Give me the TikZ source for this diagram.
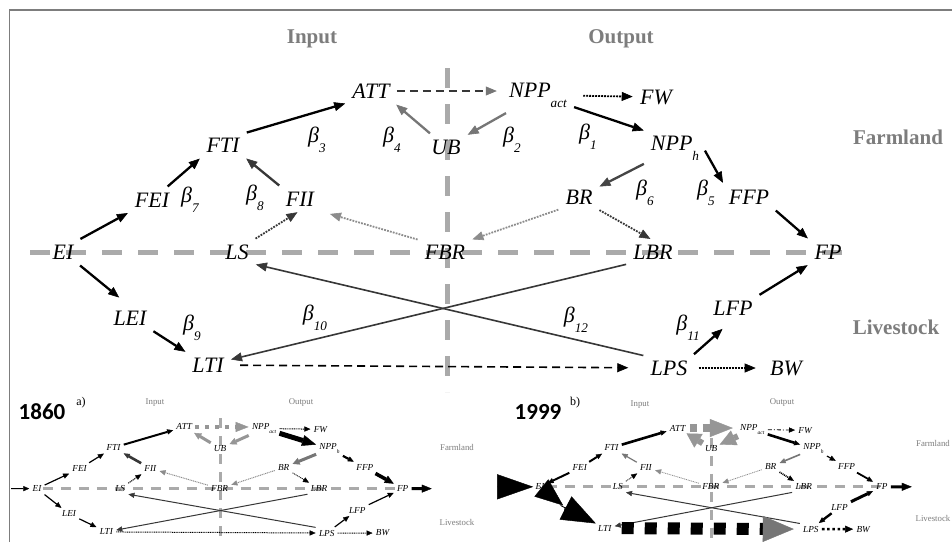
\documentclass[tikz,border=0pt]{standalone}
\usepackage{fontspec}
\setmainfont{Liberation Serif}
\newfontfamily\yearfont{Carlito}
\usepackage{tikz}
\usetikzlibrary{arrows.meta}

\definecolor{axisgray}{RGB}{170,170,170}
\definecolor{labelgray}{RGB}{125,125,125}
\definecolor{arrowgray}{RGB}{118,118,118}
\definecolor{lightarrow}{RGB}{150,150,150}
\definecolor{dotgray}{RGB}{140,140,140}
\definecolor{linegray}{RGB}{55,55,55}
\definecolor{framegray}{RGB}{125,125,125}

\newcommand\lowsub[1]{\raisebox{-0.45em}{\scalebox{0.6}{#1}}}
\newcommand\betacoef[1]{β\lowsub{#1}}

% the twenty variables, at the positions of the large diagram
\newcommand\flownodes{%
\node[var] (EI) at (63,252) {EI};
\node[var] (FEI) at (152,200) {FEI};
\node[var] (FTI) at (223,145) {FTI};
\node[var] (ATT) at (371,91) {ATT};
\node[var] (UB) at (446,147) {UB};
\node[var] (FII) at (300,199) {FII};
\node[var] (LS) at (237,252) {LS};
\node[var] (FBR) at (445,252) {FBR};
\node[var] (LEI) at (130,318) {LEI};
\node[var] (LTI) at (208,365) {LTI};
\node[var] (NPPa) at (538,95) {NPP\lowsub{act}};
\node[var] (FW) at (656,97) {FW};
\node[var] (NPPh) at (675,148) {NPP\lowsub{h}};
\node[var] (BR) at (579,197) {BR};
\node[var] (FFP) at (749,197) {FFP};
\node[var] (LBR) at (653,252) {LBR};
\node[var] (FP) at (828,252) {FP};
\node[var] (LFP) at (733,308) {LFP};
\node[var] (LPS) at (669,368) {LPS};
\node[var] (BW) at (786,368) {BW};
}

\tikzset{
  var/.style={font=\fontsize{11}{13}\selectfont\itshape, inner sep=2pt},
  coef/.style={font=\fontsize{11}{13}\selectfont\itshape, inner sep=0pt},
  group/.style={font=\fontsize{10.5}{12}\selectfont\bfseries, text=labelgray},
  smallgroup/.style={font=\fontsize{4.4}{5}\selectfont, text=labelgray},
  year/.style={font=\yearfont\bfseries\fontsize{11.5}{13}\selectfont},
  tag/.style={font=\fontsize{6}{7}\selectfont},
  axis/.style={draw=axisgray, line width=2.5pt, dash pattern=on 10pt off 8pt},
  flow/.style={-{Triangle[length=5.5pt,width=4.5pt,line width=0.3pt]}, line width=1.15pt, shorten >=1.5pt, shorten <=1.5pt},
  gflow/.style={flow, draw=arrowgray},
  dflow/.style={flow, line width=0.9pt, dash pattern=on 0.9pt off 0.6pt},
  cross/.style={flow, draw=linegray, line width=0.8pt},
  sflow/.style={-{Triangle[length=3pt,width=2.6pt,line width=0.2pt]}, line width=0.6pt, shorten >=0.5pt, shorten <=0.5pt},
  sdot/.style={sflow, line width=0.5pt, dash pattern=on 0.5pt off 0.4pt},
  scross/.style={sflow, draw=linegray, line width=0.5pt},
}

\begin{document}
\begin{tikzpicture}[x=0.5pt, y=-0.5pt]
\path[use as bounding box, fill=white] (0,0) rectangle (952,542);
\draw[framegray, line width=0.8pt] (9.5,542) -- (9.5,10) -- (952,10);

% large diagram
\draw[axis] (30,252) -- (856,252);
\draw[axis] (447,68) -- (447,392);
\node[group] (input) at (312,39) {Input};
\node[group] (output) at (621,39) {Output};
\node[group] (farmland) at (898,137) {Farmland};
\node[group] (livestock) at (896,327) {Livestock};
\flownodes
\node[coef] (beta1) at (588,137) {\betacoef{1}};
\node[coef] (beta2) at (512,140) {\betacoef{2}};
\node[coef] (beta3) at (317,140) {\betacoef{3}};
\node[coef] (beta4) at (392,140) {\betacoef{4}};
\node[coef] (beta5) at (706,193) {\betacoef{5}};
\node[coef] (beta6) at (645,193) {\betacoef{6}};
\node[coef] (beta7) at (190,200) {\betacoef{7}};
\node[coef] (beta8) at (255,198) {\betacoef{8}};
\node[coef] (beta9) at (192,328) {\betacoef{9}};
\node[coef] (beta10) at (315,318) {\betacoef{10}};
\node[coef] (beta11) at (688,328) {\betacoef{11}};
\node[coef] (beta12) at (576,320) {\betacoef{12}};

\draw[flow] (FTI.north east) -- (ATT.south west);
\draw[flow] (FEI) -- (FTI.south west);
\draw[flow, draw=linegray] (FII.north west) -- (FTI.south east);
\draw[flow] (EI.north east) -- (FEI.south west);
\draw[flow, shorten >=7pt] (EI.south east) -- (LEI.north);
\draw[flow] (LEI.south east) -- (LTI.north west);
\draw[gflow] (UB) -- (ATT.south east);
\draw[gflow] (NPPa) -- (UB);
\draw[flow] (NPPa) -- (NPPh.north west);
\draw[flow, draw=linegray!80!gray] (NPPh) -- (BR);
\draw[flow] (NPPh.east) -- (FFP.north west);
\draw[flow] (FFP.south east) -- (FP.north west);
\draw[flow] (LFP.north east) -- (FP.south west);
\draw[flow, shorten >=7pt] (LPS.north east) -- (LFP.south);
\draw[flow, draw=linegray, line width=0.6pt, dash pattern=on 4pt off 2.5pt,
  -{Triangle[length=5.5pt,width=4.5pt,line width=0.3pt,color=arrowgray]}, shorten >=4pt]
  (ATT.east) -- (ATT.east -| NPPa.west);
\draw[dflow, shorten <=6pt] (NPPa) -- (FW);
\draw[dflow, shorten <=3.5pt, shorten >=5pt] (LPS) -- (BW);
\draw[dflow, draw=linegray] (LS.north east) -- (FII.south);
\draw[dflow, draw=dotgray, shorten >=6pt] (FBR.north west) -- (FII.south east);
\draw[dflow, draw=dotgray] (BR.south west) -- (FBR.north east);
\draw[dflow, draw=linegray] (BR.south east) -- (LBR.north);
\draw[flow, line width=0.8pt, dash pattern=on 4pt off 2.5pt, shorten <=6pt, shorten >=9pt] (LTI) -- (LPS);
\draw[cross] (LBR.south west) -- (LTI);
\draw[cross] (LPS.north west) -- (LS.south east);

% 1860
\node[year] (y1860) at (42,412) {1860};
\node[tag] (taga) at (81,403) {a)};
\node[smallgroup] (inputa) at (155,403) {Input};
\node[smallgroup] (outputa) at (301,403) {Output};
\node[smallgroup] (farmlanda) at (457,447) {Farmland};
\node[smallgroup] (livestocka) at (457,522) {Livestock};
\begin{scope}[shift={(6.9,392.1)}, xscale=0.478, yscale=0.383, name prefix=a-,
  var/.style={font=\fontsize{4.6}{5}\selectfont\itshape, inner sep=1pt}]
\draw[axis, line width=1.5pt, dash pattern=on 5pt off 4pt] (75,252) -- (822,252);
\draw[axis, line width=1.5pt, dash pattern=on 5pt off 4pt] (447,68) -- (447,395);
\flownodes
\coordinate (in) at (6.5,252);
\coordinate (out) at (891,252);
\draw[sflow] (in) -- (EI);
\draw[sflow] (EI) -- (FEI);
\draw[sflow] (FEI) -- (FTI);
\draw[sflow, line width=1pt] (FTI) -- (ATT);
\draw[sflow, draw=linegray, line width=1.3pt] (FII) -- (FTI);
\draw[sflow] (EI) -- (LEI);
\draw[sflow] (LEI) -- (LTI);
\draw[sdot] (LS) -- (FII);
\draw[sdot, draw=dotgray] (FBR) -- (FII);
\draw[sflow, draw=lightarrow, line width=2pt, dash pattern=on 2pt off 3pt,
  -{Triangle[length=6.5pt,width=5pt,line width=0.2pt]}] (ATT.east) -- (ATT.east -| NPPa.west);
\draw[sflow, draw=lightarrow, line width=1.5pt, -{Triangle[length=3.5pt,width=3.5pt,line width=0.2pt]}] (UB) -- (ATT);
\draw[sflow, draw=lightarrow, line width=1.5pt, -{Triangle[length=3.5pt,width=3.5pt,line width=0.2pt]}] (NPPa) -- (UB);
\draw[sdot] (NPPa) -- (FW);
\draw[sflow, line width=2.5pt, -{Triangle[length=7pt,width=5.5pt,line width=0.2pt]}] (NPPa) -- (NPPh);
\draw[sflow, draw=arrowgray, line width=1.5pt, -{Triangle[length=3.5pt,width=3.5pt,line width=0.2pt]}] (NPPh) -- (BR);
\draw[sflow, line width=1.1pt] (NPPh) -- (FFP);
\draw[sflow, line width=1.8pt, -{Triangle[length=4.5pt,width=4pt,line width=0.2pt]}] (FFP) -- (FP);
\draw[sdot, draw=dotgray] (BR) -- (FBR);
\draw[sdot, line width=0.4pt] (BR) -- (LBR);
\draw[scross] (LBR.south west) -- (LTI);
\draw[scross] (LPS.north west) -- (LS.south east);
\draw[sdot] (LTI) -- (LPS);
\draw[sflow] (LPS) -- (LFP);
\draw[sflow] (LFP) -- (FP);
\draw[sdot] (LPS) -- (BW);
\draw[sflow, line width=1.6pt, -{Triangle[length=5pt,width=4pt,line width=0.2pt]}] (FP) -- (out);
\end{scope}

% 1999
\node[year] (y1999) at (538,412) {1999};
\node[tag] (tagb) at (575,403) {b)};
\node[smallgroup] (inputb) at (640,405) {Input};
\node[smallgroup] (outputb) at (782,403) {Output};
\node[smallgroup] (farmlandb) at (933,443) {Farmland};
\node[smallgroup] (livestockb) at (933,518) {Livestock};
\begin{scope}[shift={(511.8,394.8)}, xscale=0.447, yscale=0.365, name prefix=b-,
  var/.style={font=\fontsize{4.6}{5}\selectfont\itshape, inner sep=1pt}]
\draw[axis, line width=1.5pt, dash pattern=on 5pt off 4pt] (79,252) -- (824,252);
\draw[axis, line width=1.5pt, dash pattern=on 5pt off 4pt] (447,69) -- (447,403);
\flownodes
\coordinate (in) at (-33,252);
\coordinate (out) at (897,252);
\draw[-{Triangle[length=18pt,width=12.5pt,line width=0.2pt]}, line width=0.4pt] (in) -- (EI);
\draw[sflow, line width=1pt] (FEI) -- (EI);
\draw[-{Triangle[length=14pt,width=11pt,line width=0.2pt]}, line width=0.4pt] (EI.center) -- (LEI);
\draw[-{Triangle[length=17pt,width=13pt,line width=0.2pt]}, line width=0.4pt] (LEI.north west) -- (LTI);
\draw[sflow, line width=1pt] (FEI) -- (FTI);
\draw[sflow, line width=1.3pt] (FTI) -- (ATT);
\draw[sflow, draw=arrowgray, line width=0.6pt] (FII) -- (FTI);
\draw[sdot, line width=0.4pt] (LS) -- (FII);
\draw[sdot, draw=dotgray, line width=0.4pt] (FBR) -- (FII);
\draw[draw=lightarrow, line width=4pt, dash pattern=on 3.5pt off 3pt,
  -{Triangle[length=11.5pt,width=9pt,line width=0.2pt]}, shorten >=2.5pt, shorten <=1pt]
  (ATT.east) -- (ATT.east -| NPPa.west);
\draw[draw=lightarrow, line width=3pt, -{Triangle[length=7pt,width=8pt,line width=0.2pt]}] (UB) -- (ATT);
\draw[draw=lightarrow, line width=3pt, -{Triangle[length=8pt,width=8pt,line width=0.2pt]}] (NPPa) -- (UB);
\draw[sflow, line width=0.4pt, dash pattern=on 2pt off 1pt on 0.5pt off 1pt] (NPPa) -- (FW);
\draw[sflow, line width=1.3pt] (NPPa) -- (NPPh);
\draw[sflow, draw=arrowgray, line width=0.8pt] (NPPh) -- (BR);
\draw[sflow, line width=0.6pt] (NPPh) -- (FFP);
\draw[sdot, draw=dotgray, line width=0.4pt] (BR) -- (FBR);
\draw[sdot, line width=0.8pt] (BR) -- (LBR);
\draw[sflow, line width=0.9pt] (FFP) -- (FP);
\draw[scross] (LBR.south west) -- (LTI);
\draw[scross] (LPS.north west) -- (LS.south east);
\draw[line width=6pt, dash pattern=on 6pt off 5.5pt, shorten <=4pt, shorten >=3.5pt,
  -{Triangle[length=15.5pt,width=13pt,line width=0.2pt,color=arrowgray]}] (LTI) -- (LPS);
\draw[sflow, line width=1.2pt] (LFP) -- (LPS);
\draw[sflow, line width=1.5pt] (LFP) -- (FP);
\draw[sflow, line width=1.3pt, dash pattern=on 1.3pt off 1.3pt, -{Triangle[length=4pt,width=3.5pt,line width=0.2pt]}] (LPS) -- (BW);
\draw[sflow, line width=1.5pt, -{Triangle[length=5pt,width=4pt,line width=0.2pt]}] (FP) -- (out);
\end{scope}
\end{tikzpicture}
\end{document}
